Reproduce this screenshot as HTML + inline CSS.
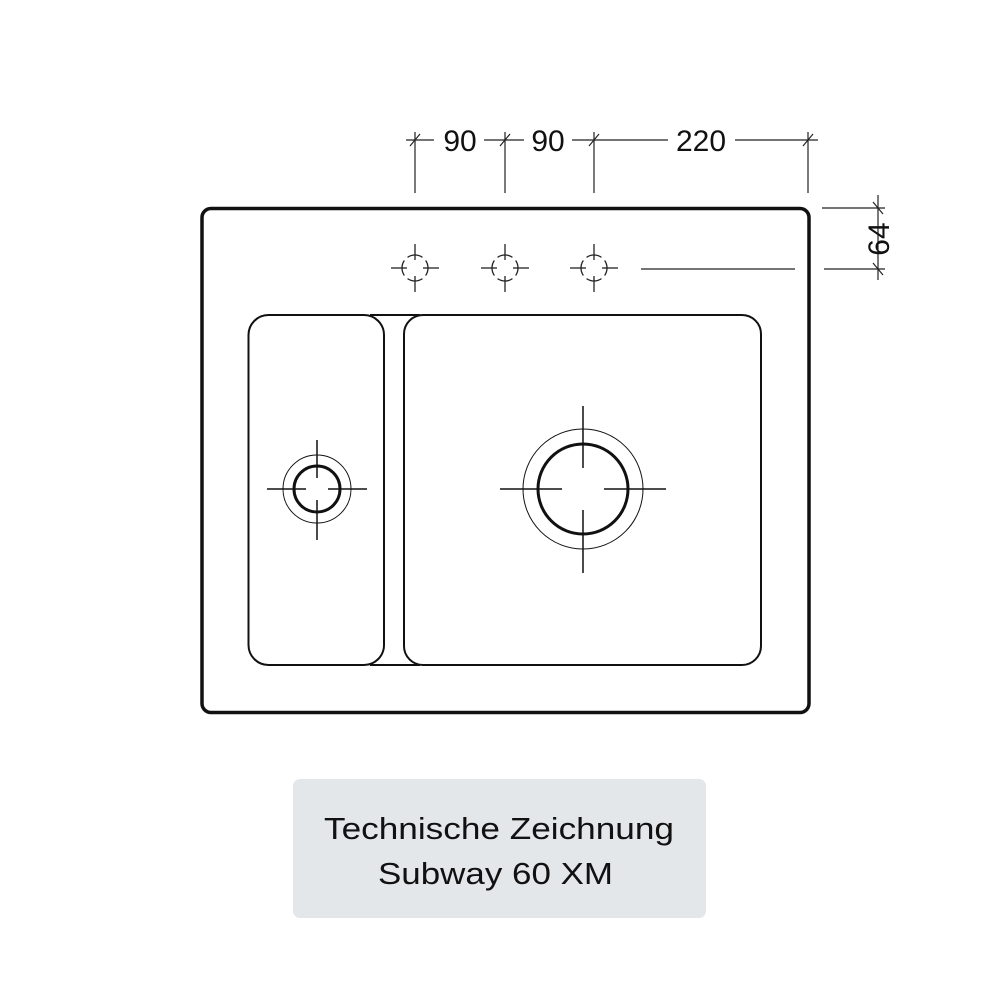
<!DOCTYPE html>
<html><head><meta charset="utf-8"><style>html,body{margin:0;padding:0;background:#fff}svg{display:block}</style></head>
<body>
<svg width="1000" height="1000" viewBox="0 0 1000 1000" xmlns="http://www.w3.org/2000/svg">
<rect width="1000" height="1000" fill="#fff"/>
<rect x="202" y="208.5" width="607" height="504" rx="9" fill="none" stroke="#111" stroke-width="3.5"/>
<rect x="248.5" y="315" width="135.5" height="350" rx="20" fill="none" stroke="#111" stroke-width="2"/>
<rect x="404" y="315" width="357" height="350" rx="19" fill="none" stroke="#111" stroke-width="2"/>
<line x1="370" y1="315" x2="420" y2="315" stroke="#111" stroke-width="2"/>
<line x1="370" y1="665" x2="420" y2="665" stroke="#111" stroke-width="2"/>
<g stroke="#111">
<circle cx="317" cy="489" r="34" fill="none" stroke-width="1"/>
<circle cx="317" cy="489" r="23" fill="none" stroke-width="3"/>
<line x1="267" y1="489" x2="306" y2="489" stroke-width="1.5"/>
<line x1="328" y1="489" x2="367" y2="489" stroke-width="1.5"/>
<line x1="317" y1="440" x2="317" y2="478" stroke-width="1.5"/>
<line x1="317" y1="500" x2="317" y2="540" stroke-width="1.5"/>
<circle cx="583" cy="489" r="60" fill="none" stroke-width="1"/>
<circle cx="583" cy="489" r="45" fill="none" stroke-width="3"/>
<line x1="500" y1="489" x2="562" y2="489" stroke-width="1.5"/>
<line x1="604" y1="489" x2="666" y2="489" stroke-width="1.5"/>
<line x1="583" y1="406" x2="583" y2="468" stroke-width="1.5"/>
<line x1="583" y1="510" x2="583" y2="573" stroke-width="1.5"/>
</g>
<defs>
<g id="tap" stroke="#222" stroke-width="1.3" fill="none">
<path d="M10.65,-7.46 A13,13 0 0 1 10.65,7.46 M-10.65,-7.46 A13,13 0 0 0 -10.65,7.46 M-7.46,-10.65 A13,13 0 0 1 7.46,-10.65 M-7.46,10.65 A13,13 0 0 0 7.46,10.65"/>
<line x1="-24" y1="0" x2="-8" y2="0"/><line x1="8" y1="0" x2="24" y2="0"/>
<line x1="0" y1="-24" x2="0" y2="-8"/><line x1="0" y1="8" x2="0" y2="24"/>
</g>
</defs>
<use href="#tap" x="415" y="268"/>
<use href="#tap" x="505" y="268"/>
<use href="#tap" x="594" y="268"/>
<line x1="641" y1="269" x2="795" y2="269" stroke="#222" stroke-width="1.2"/>
<g stroke="#222" stroke-width="1.2">
<line x1="406" y1="140" x2="434" y2="140"/>
<line x1="484" y1="140" x2="524" y2="140"/>
<line x1="572" y1="140" x2="668" y2="140"/>
<line x1="735" y1="140" x2="818" y2="140"/>
<line x1="415" y1="132" x2="415" y2="193"/>
<line x1="505" y1="132" x2="505" y2="193"/>
<line x1="594" y1="132" x2="594" y2="193"/>
<line x1="808" y1="132" x2="808" y2="193"/>
<line x1="410" y1="146" x2="420" y2="134"/>
<line x1="500" y1="146" x2="510" y2="134"/>
<line x1="589" y1="146" x2="599" y2="134"/>
<line x1="803" y1="146" x2="813" y2="134"/>
<line x1="878" y1="195" x2="878" y2="280"/>
<line x1="822" y1="208" x2="885" y2="208"/>
<line x1="824" y1="269" x2="885" y2="269"/>
<line x1="873" y1="202" x2="883" y2="214"/>
<line x1="873" y1="263" x2="883" y2="275"/>
</g>
<g font-family="Liberation Sans, Arial, sans-serif" font-size="30" fill="#111">
<text x="460" y="151" text-anchor="middle">90</text>
<text x="548" y="151" text-anchor="middle">90</text>
<text x="701" y="151" text-anchor="middle">220</text>
<text transform="translate(889,239) rotate(-90)" text-anchor="middle">64</text>
</g>
<rect x="293" y="779" width="413" height="139" rx="7" fill="#e3e7ea"/>
<g font-family="Liberation Sans, Arial, sans-serif" font-size="31" fill="#111">
<text x="324" y="839" textLength="350" lengthAdjust="spacingAndGlyphs">Technische Zeichnung</text>
<text x="378" y="884" textLength="235" lengthAdjust="spacingAndGlyphs">Subway 60 XM</text>
</g>
</svg>
</body></html>
